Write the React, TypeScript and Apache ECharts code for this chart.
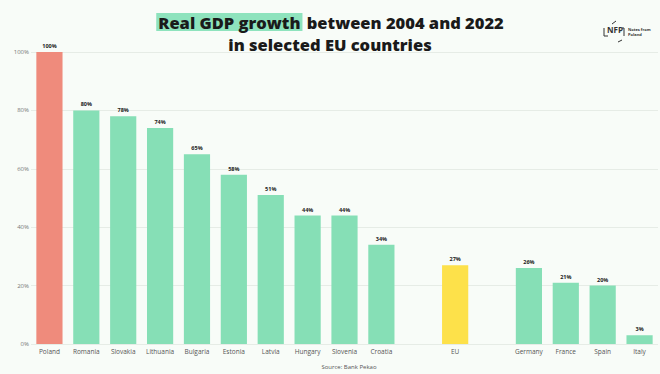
import React, { useEffect, useRef } from "react";
import * as echarts from "echarts";

const categories = ["Poland", "Romania", "Slovakia", "Lithuania", "Bulgaria", "Estonia", "Latvia", "Hungary", "Slovenia", "Croatia", "", "EU", " ", "Germany", "France", "Spain", "Italy"];
const values: (number | null)[] = [100, 80, 78, 74, 65, 58, 51, 44, 44, 34, null, 27, null, 26, 21, 20, 3];
const barColors = ["#ef8b7c", "#86dfb6", "#86dfb6", "#86dfb6", "#86dfb6", "#86dfb6", "#86dfb6", "#86dfb6", "#86dfb6", "#86dfb6", "#86dfb6", "#fde14a", "#86dfb6", "#86dfb6", "#86dfb6", "#86dfb6", "#86dfb6"];
const yTicks = [0, 20, 40, 60, 80, 100];

export default function App() {
  const ref = useRef<HTMLDivElement>(null);
  useEffect(() => {
    if (!ref.current) return;
    const chart = echarts.init(ref.current, undefined, { renderer: "svg" });
    chart.setOption({
      animation: false,
      backgroundColor: "#f8fcf8",
      textStyle: { fontFamily: "Open Sans" },
      title: {
        text: "{hl|Real GDP growth} between 2004 and 2022\nin selected EU countries",
        left: "center",
        top: 6,
        textStyle: {
          fontFamily: "Open Sans",
          fontSize: 16.5,
          fontWeight: 800,
          color: "#1a1a1a",
          lineHeight: 22,
          rich: {
            hl: {
              fontFamily: "Open Sans",
              fontSize: 16.5,
              fontWeight: 800,
              color: "#1a1a1a",
              backgroundColor: "#8ee3bd",
              padding: [1, 2, 0, 2],
              lineHeight: 22,
            },
          },
        },
      },
      graphic: [
        { type: "polyline", shape: { points: [[604, 28], [604, 36], [608, 36]] }, style: { stroke: "#333", lineWidth: 1, fill: "none" } },
        { type: "text", x: 607, y: 25, style: { text: "NFP", font: "bold 8px 'Open Sans'", fill: "#333" } },
        { type: "polyline", shape: { points: [[622, 28], [624, 28], [624, 36]] }, style: { stroke: "#333", lineWidth: 1, fill: "none" } },
        { type: "line", shape: { x1: 612, y1: 24, x2: 616, y2: 21 }, style: { stroke: "#333", lineWidth: 1 } },
        { type: "line", shape: { x1: 618, y1: 42, x2: 622, y2: 40 }, style: { stroke: "#333", lineWidth: 1 } },
        { type: "text", x: 628, y: 27, style: { text: "Notes from\nPoland", font: "bold 4px 'Open Sans'", fill: "#333", lineHeight: 5 } },
        { type: "text", x: 349, y: 367, style: { text: "Source: Bank Pekao", font: "6px 'Open Sans'", fill: "#555", align: "center", verticalAlign: "middle" } },
      ],
      grid: { left: 31, right: 2, top: 52, bottom: 30 },
      xAxis: {
        type: "category",
        data: categories,
        axisLine: { show: false },
        axisTick: { show: false },
        axisLabel: { fontSize: 6.5, color: "#555", margin: 4, interval: 0 },
      },
      yAxis: {
        type: "value",
        min: 0,
        max: 100,
        interval: 20,
        axisLine: { show: false },
        axisTick: { show: false },
        splitLine: { lineStyle: { color: "#e6ece6", width: 1 } },
        axisLabel: { fontSize: 6, color: "#777", margin: 2, formatter: (v: number) => (yTicks.includes(v) ? v + "%" : "") },
      },
      series: [
        {
          type: "bar",
          barWidth: "71%",
          data: values.map((v, i) => ({ value: v, itemStyle: { color: barColors[i] } })),
          label: {
            show: true,
            position: "top",
            distance: 3,
            fontSize: 5.5,
            fontWeight: "bold",
            color: "#222",
            formatter: (p: any) => (p.value == null ? "" : p.value + "%"),
          },
        },
      ],
    });
    return () => chart.dispose();
  }, []);
  return <div ref={ref} style={{ width: 660, height: 374, position: "fixed", left: 0, top: 0 }} />;
}
